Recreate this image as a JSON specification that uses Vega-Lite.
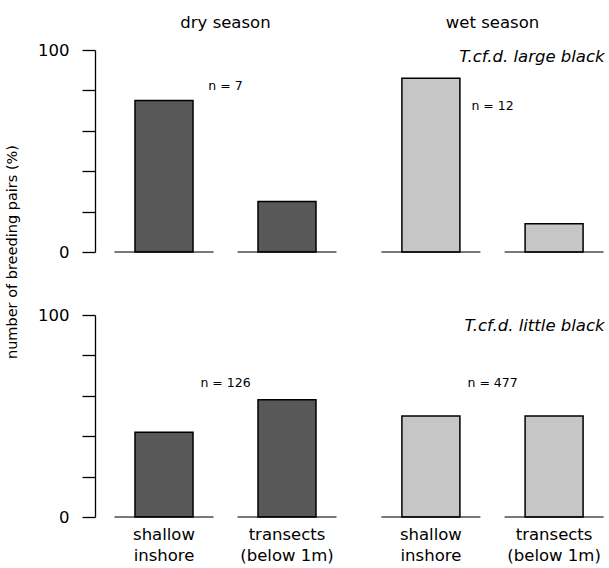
{
  "$schema": "https://vega.github.io/schema/vega-lite/v6.json",
  "padding": {"left": 5, "top": 14, "right": 0, "bottom": 0},
  "background": "white",
  "config": {
    "view": {"stroke": null},
    "font": "DejaVu Sans",
    "axis": {"labelColor": "black", "labelFont": "DejaVu Sans", "grid": false}
  },
  "data": {
    "values": [
      {"kind": "bar", "season": "dry", "species": "large", "habitat": "shallow", "pct": 75},
      {"kind": "bar", "season": "dry", "species": "large", "habitat": "transects", "pct": 25},
      {"kind": "bar", "season": "wet", "species": "large", "habitat": "shallow", "pct": 86},
      {"kind": "bar", "season": "wet", "species": "large", "habitat": "transects", "pct": 14},
      {"kind": "bar", "season": "dry", "species": "little", "habitat": "shallow", "pct": 42},
      {"kind": "bar", "season": "dry", "species": "little", "habitat": "transects", "pct": 58},
      {"kind": "bar", "season": "wet", "species": "little", "habitat": "shallow", "pct": 50},
      {"kind": "bar", "season": "wet", "species": "little", "habitat": "transects", "pct": 50},
      {"kind": "n", "season": "dry", "species": "large", "habitat": "transects", "label": "n = 7", "at": 82},
      {"kind": "n", "season": "wet", "species": "large", "habitat": "transects", "label": "n = 12", "at": 72.5},
      {"kind": "n", "season": "dry", "species": "little", "habitat": "transects", "label": "n = 126", "at": 66.5},
      {"kind": "n", "season": "wet", "species": "little", "habitat": "transects", "label": "n = 477", "at": 66.5},
      {"kind": "sp", "season": "wet", "species": "large", "habitat": "transects", "label": "T.cf.d. large black", "at": 94},
      {"kind": "sp", "season": "wet", "species": "little", "habitat": "transects", "label": "T.cf.d. little black", "at": 92}
    ]
  },
  "spacing": 10,
  "hconcat": [
    {
      "transform": [{"filter": "datum.season === 'dry'"}],
      "title": {"text": "dry season", "fontSize": 16.5, "font": "DejaVu Sans", "fontWeight": "normal", "color": "black", "anchor": "middle", "frame": "group", "offset": 11, "dx": 130.5},
      "facet": {
        "row": {
          "field": "species", "type": "nominal", "sort": ["large", "little"],
          "header": {"title": null, "labelOrient": "left",
            "labelExpr": "datum.value === 'large' ? 'number of breeding pairs (%)' : ''",
            "labelAngle": -90, "labelAnchor": "start", "labelAlign": "center",
            "labelFontSize": 14.5, "labelFont": "DejaVu Sans", "labelColor": "black", "labelPadding": 10}
        }
      },
      "spacing": {"row": 62},
      "spec": {
        "width": 261,
        "height": 202,
        "layer": [
          {
            "transform": [{"filter": "datum.kind === 'bar'"}],
            "mark": {"type": "bar", "fill": "#585858", "stroke": "black", "strokeWidth": 1.5, "width": 58},
            "encoding": {
              "x": {"field": "habitat", "type": "nominal",
                "scale": {"domain": ["shallow", "transects"], "paddingInner": 0.53, "paddingOuter": 0.326, "align": 0.5},
                "axis": {"title": null, "domain": false, "ticks": false, "labelAngle": 0, "labelFontSize": 16.5, "labelPadding": 8, "labelLineHeight": 21,
                  "labelExpr": "datum.value === 'shallow' ? ['shallow', 'inshore'] : ['transects', '(below  1m)']"}},
              "y": {"field": "pct", "type": "quantitative", "scale": {"domain": [0, 100], "nice": false},
                "axis": {"title": null, "values": [0, 10, 20, 30, 40, 50, 60, 70, 80, 90, 100],
                  "labelExpr": "datum.value % 50 === 0 ? datum.label : ''",
                  "tickSize": 13, "labelPadding": 13, "labelFontSize": 16.5, "domainColor": "black", "tickColor": "black", "domainWidth": 1.3, "tickWidth": 1.3}}
            }
          },
          {
            "transform": [{"filter": "datum.kind === 'bar'"}],
            "mark": {"type": "tick", "color": "black", "size": 99, "thickness": 1.5, "orient": "horizontal"},
            "encoding": {
              "x": {"field": "habitat", "type": "nominal"},
              "y": {"datum": 0, "type": "quantitative"}
            }
          },
          {
            "transform": [{"filter": "datum.kind === 'n'"}],
            "mark": {"type": "text", "fontSize": 12.5, "dx": -61.5, "align": "center", "baseline": "middle", "color": "black"},
            "encoding": {
              "x": {"field": "habitat", "type": "nominal"},
              "y": {"field": "at", "type": "quantitative"},
              "text": {"field": "label"}
            }
          }
        ]
      }
    },
    {
      "transform": [{"filter": "datum.season === 'wet'"}],
      "title": {"text": "wet season", "fontSize": 16.5, "font": "DejaVu Sans", "fontWeight": "normal", "color": "black", "anchor": "middle", "frame": "group", "offset": 18, "dx": 126.5},
      "facet": {
        "row": {"field": "species", "type": "nominal", "sort": ["large", "little"], "header": {"labels": false, "title": null}}
      },
      "spacing": {"row": 62},
      "spec": {
        "width": 237,
        "height": 202,
        "layer": [
          {
            "transform": [{"filter": "datum.kind === 'bar'"}],
            "mark": {"type": "bar", "fill": "#c6c6c6", "stroke": "black", "strokeWidth": 1.5, "width": 58},
            "encoding": {
              "x": {"field": "habitat", "type": "nominal",
                "scale": {"domain": ["shallow", "transects"], "paddingInner": 0.53, "paddingOuter": 0.227, "align": 0.643},
                "axis": {"title": null, "domain": false, "ticks": false, "labelAngle": 0, "labelFontSize": 16.5, "labelPadding": 8, "labelLineHeight": 21,
                  "labelExpr": "datum.value === 'shallow' ? ['shallow', 'inshore'] : ['transects', '(below  1m)']"}},
              "y": {"field": "pct", "type": "quantitative", "scale": {"domain": [0, 100], "nice": false}, "axis": null}
            }
          },
          {
            "transform": [{"filter": "datum.kind === 'bar'"}],
            "mark": {"type": "tick", "color": "black", "size": 99, "thickness": 1.5, "orient": "horizontal"},
            "encoding": {
              "x": {"field": "habitat", "type": "nominal"},
              "y": {"datum": 0, "type": "quantitative"}
            }
          },
          {
            "transform": [{"filter": "datum.kind === 'n'"}],
            "mark": {"type": "text", "fontSize": 12.5, "dx": -61.5, "align": "center", "baseline": "middle", "color": "black"},
            "encoding": {
              "x": {"field": "habitat", "type": "nominal"},
              "y": {"field": "at", "type": "quantitative"},
              "text": {"field": "label"}
            }
          },
          {
            "transform": [{"filter": "datum.kind === 'sp'"}],
            "mark": {"type": "text", "fontSize": 16.5, "fontStyle": "italic", "dx": 50.5, "align": "right", "baseline": "alphabetic", "color": "black"},
            "encoding": {
              "x": {"field": "habitat", "type": "nominal"},
              "y": {"field": "at", "type": "quantitative"},
              "text": {"field": "label"}
            }
          }
        ]
      }
    }
  ]
}
